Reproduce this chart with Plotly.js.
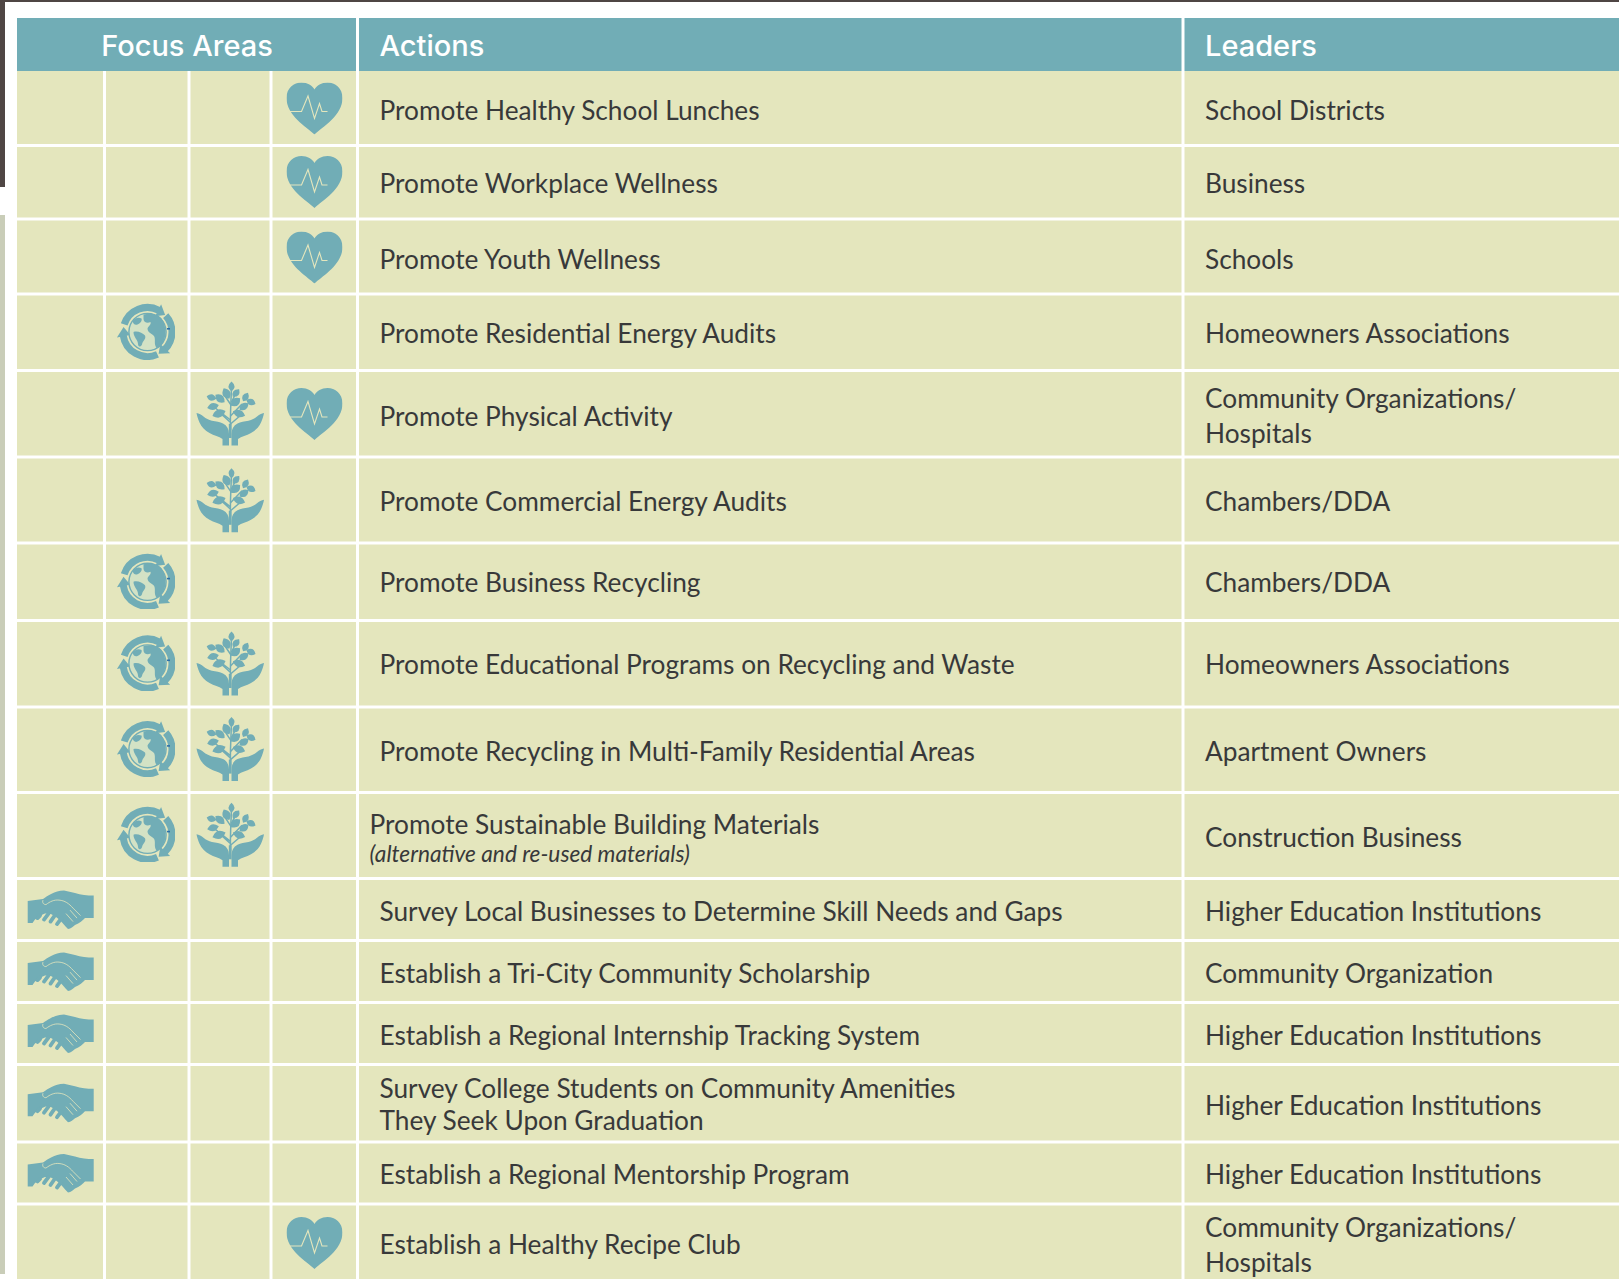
<!DOCTYPE html>
<html><head><meta charset="utf-8">
<script src="https://cdn.plot.ly/plotly-3.0.1.min.js"></script>
<style>html,body{margin:0;padding:0;background:#fff;overflow:hidden}</style></head>
<body><div id="chart" style="width:1619px;height:1279px"></div>
<script>
// ---- content ----
const headers = ["Focus Areas", "Actions", "Leaders"];
const actionLines = ["Promote Healthy School Lunches","Promote Workplace Wellness","Promote Youth Wellness","Promote Residential Energy Audits","Promote Physical Activity","Promote Commercial Energy Audits","Promote Business Recycling","Promote Educational Programs on Recycling and Waste","Promote Recycling in Multi-Family Residential Areas","Promote Sustainable Building Materials","Survey Local Businesses to Determine Skill Needs and Gaps","Establish a Tri-City Community Scholarship","Establish a Regional Internship Tracking System","Survey College Students on Community Amenities","They Seek Upon Graduation","Establish a Regional Mentorship Program","Establish a Healthy Recipe Club"];
const noteLines = ["(alternative and re-used materials)"];
const leaderLines = ["School Districts","Business","Schools","Homeowners Associations","Community Organizations/","Hospitals","Chambers/DDA","Chambers/DDA","Homeowners Associations","Apartment Owners","Construction Business","Higher Education Institutions","Community Organization","Higher Education Institutions","Higher Education Institutions","Higher Education Institutions","Community Organizations/","Hospitals"];
// row index (0-based) of rows marked in each focus column
const handsRows = [10,11,12,13,14];
const globeRows = [3,6,7,8,9];
const treeRows  = [4,5,7,8,9];
const heartRows = [0,1,2,4,15];

// ---- page geometry (axis units = reference pixels) ----
const columnEdges = [17,104.5,189,271,357.5,1183,1619];
const headerEdges = [17,357.5,1183,1619];
const rowEdges = [71,145.5,219,294,370.5,457,543,620.5,707,792.5,878.5,940.5,1002.5,1064.5,1142,1204,1279];
const headerTop = 18, gap = 3;
const actionX = 379.5, noteX = 369.5, leaderX = 1205;
const actionY = [113.5,186.8,262,336.5,419,504.8,585.3,667.5,754.6,827,914.7,976.6,1038.6,1091.8,1123.5,1177.5,1247.5];
const actionXs = actionLines.map((t,i)=> i===9 ? noteX : actionX);
const noteY = [856];
const leaderY = [113.5,186.8,262,336.5,401,436.5,504.8,585.3,667.5,754.6,840.5,914.7,976.6,1038.6,1108.8,1177.5,1230,1265];
const iconCentersY = [108.5,182,257.5,332.5,414,500.8,582.3,664,749.6,835.3,909.6,971.6,1033.5,1102.7,1173,1243];
const iconX = {hands:61, globe:147.5, tree:230, heart:314.5};
const iconDY = {hands:0, globe:0, tree:2, heart:0};
const iconW = {hands:76, globe:70, tree:76, heart:56};
const iconH = {hands:50, globe:70, tree:76, heart:52};

const teal = "#71adb6", cell = "#e4e6bd", ink = "#38393a";

// ---- icons ----
function leaf(x,y,l,w,a){
  return `<path transform="translate(${x} ${y}) rotate(${a})" d="M${-l/2} 0 Q0 ${-w} ${l/2} 0 Q0 ${w} ${-l/2} 0Z"/>`;
}
const svgWrap = (w,h,body)=>"data:image/svg+xml;base64,"+btoa(
  `<svg xmlns="http://www.w3.org/2000/svg" width="${w*3}" height="${h*3}" viewBox="0 0 ${w} ${h}"><defs><filter id="b" x="-5%" y="-5%" width="110%" height="110%"><feGaussianBlur stdDeviation="0.28"/></filter></defs><g filter="url(#b)">${body}</g></svg>`);

const heartSvg = svgWrap(56,52,
 `<path fill="${teal}" d="M28 52C20 44.5 0 33 0 15.5C0 5.5 7.5 0 15 0C21 0 25.8 3 28 7C30.2 3 35 0 41 0C48.5 0 56 5.5 56 15.5C56 33 36 44.5 28 52Z"/>
  <path fill="none" stroke="${cell}" stroke-width="1.1" d="M2 29L15 29L21.5 13.5L28 36L33 21L35.5 29L41 29"/>`);

const gc = [35,34.5], gr = 24.5;
const gp = (a,r)=>{const t=a*Math.PI/180;return (gc[0]+r*Math.cos(t)).toFixed(2)+" "+(gc[1]+r*Math.sin(t)).toFixed(2);};
const garc = (a0,a1)=>`<path d="M${gp(a0,gr)}A${gr} ${gr} 0 ${((a1-a0+360)%360)>180?1:0} 1 ${gp(a1,gr)}"/>`;
const ghead = (a0,a1)=>`<path d="M${gp(a0,gr-7)}L${gp(a0,gr+6.5)}L${gp(a1,gr)}Z"/>`;
const globeSvg = svgWrap(70,70,
 `<g fill="none" stroke="${teal}" stroke-width="7">${garc(198,298)}${garc(318,45)}${garc(66,172)}</g>
  <g fill="${teal}">${ghead(296,316)}${ghead(43,63)}${ghead(170,192)}</g>
  <circle cx="35" cy="34.5" r="18.6" fill="#d3e2c5" stroke="${teal}" stroke-width="1.4"/>
  <g fill="${teal}">
   <path d="M31 17C38 15 46 16.5 49 21C52 25 53.5 32 53 37C52 44 48 50 44 50.5C41 46 43.5 42 41.5 38.5C39 36 35 35 35 31C36 28 39 27.5 38 24.5C35 26 31 25 31 21.5Z"/>
   <path d="M21 34.5C25 33 30 35.5 32.5 38C34 41.5 30 43.5 29.5 47C28 50 25.5 49.5 25.5 46.5C25.5 42 21 40 21 34.5Z"/>
   <path d="M20 24C22 20.5 26 19.5 29 21C30 23.5 27.5 26 25 27C22.5 28 21 26.5 20 24Z"/></g>
  <path fill="#2f6fa8" d="M54.5 30.5h3v1.6h-3z"/>`);

const hand = `<path d="M4.5 35C7 35.5 9.5 36.5 11.5 38.5C14 40.5 16.5 42 20 42.8C24 43.6 28 44 31 45.5C35 47.5 37 51 37 56L37 67.5L30.5 67.5L30.5 61C27 58.5 22 57.5 17.5 55C13 52.5 9.5 49 7.5 44.5C6 41 5 38 4.5 35Z"/>`;
const treeSvg = svgWrap(76,76,
 `<g fill="${teal}">${hand}<g transform="translate(76.5 0) scale(-1 1)">${hand}</g>
  <path d="M36.8 46h2.8v14h-2.8z"/></g>
  <g fill="none" stroke="${teal}" stroke-width="1.5"><path d="M38.5 52C38 38 39 24 39.5 9"/><path d="M38.5 42L22 29M38.5 38L50 26M38.5 46L49 37M38 44L27 34M39 27L33 18M39.5 24L44 15"/></g>
  <g fill="${teal}">
   ${leaf(39.5,8.5,10,6,90)}${leaf(34.5,15.5,12,8,62)}${leaf(44,15,10,6.5,-50)}
   ${leaf(28,20.5,12,7.5,40)}${leaf(43.5,24,12,8,-40)}${leaf(19.5,19.5,10,6.5,15)}
   ${leaf(53.5,19,10,6.5,-60)}${leaf(59,24,10,6.5,25)}${leaf(21,28.5,12,7,-15)}
   ${leaf(27,35.5,14,8,-20)}${leaf(47,35.5,13,7.5,20)}${leaf(52,28.5,11,7,-35)}
  </g>`);

const handsSvg = svgWrap(76,50,
 `<path fill="${teal}" d="M4.7 16.5L20 14.5C25 11 31 6.5 41 6L52 8.5C58 10.5 64 11 70.7 11L70.7 33.5L62 33.5C60 36 56.5 38.5 52 40.5C50 42 48 44 45 44.5C41.5 41 38 36 33 32.5C29 29.5 26 28.5 22 29C18 30.5 15 33 12 35L9.5 38.5L4.7 38.5Z"/>
  <g fill="none" stroke="${teal}" stroke-width="3.8" stroke-linecap="round"><path d="M14.5 33.5L17 31"/><path d="M21 35L25.5 29"/><path d="M27.5 37L32 30.5"/><path d="M34 39.5L38.5 33.5"/></g>
  <path fill="none" stroke="${cell}" stroke-width="0.8" d="M20 15.5C19 18 20.5 20 23 20C27 17 31 15 36 15.5C42 16 46 19 50 23.5L57.5 31M43 29L50 37M47 25.5L54 33.5"/>`);

const iconSource = {hands:handsSvg, globe:globeSvg, tree:treeSvg, heart:heartSvg};
const iconRows = {hands:handsRows, globe:globeRows, tree:treeRows, heart:heartRows};

// ---- shapes ----
const rect = (x0,x1,y0,y1,c)=>({type:"rect",xref:"x",yref:"y",x0,x1,y0,y1,fillcolor:c,line:{width:0},layer:"below"});
const shapes = [];
shapes.push(rect(0,1619,0,2,"#4f4644"));
shapes.push(rect(0,5,0,187,"#4f4644"));
shapes.push(rect(0,5,215,1274,"#c9cdb8"));
for(let c=0;c<headerEdges.length-1;c++){
  shapes.push(rect(headerEdges[c]+(c?gap/2:0), headerEdges[c+1]-(c<2?gap/2:0), headerTop, rowEdges[0], teal));
}
for(let r=0;r<rowEdges.length-1;r++){
  for(let c=0;c<columnEdges.length-1;c++){
    shapes.push(rect(columnEdges[c]+(c?gap/2:0), columnEdges[c+1]-(c<5?gap/2:0),
      rowEdges[r]+(r?gap/2:0), rowEdges[r+1]-(r<rowEdges.length-2?gap/2:0), cell));
  }
}

// ---- icons as layout images ----
const images = [];
for(const k of Object.keys(iconRows)){
  for(const r of iconRows[k]){
    images.push({source:iconSource[k],xref:"x",yref:"y",x:iconX[k],y:iconCentersY[r]+iconDY[k],
      sizex:iconW[k],sizey:iconH[k],xanchor:"center",yanchor:"middle",sizing:"stretch",layer:"above"});
  }
}

// ---- traces: all the text ----
const bodyFont = "Lato, 'Open Sans', sans-serif";
const headFont = {family:"Inter, Roboto, sans-serif",size:29,color:"#ffffff",weight:500};
const traces = [
 {type:"scatter",mode:"text",x:actionXs,y:actionY,text:actionLines,textposition:"middle right",
  textfont:{family:bodyFont,size:26.25,color:ink},hoverinfo:"skip",showlegend:false},
 {type:"scatter",mode:"text",x:[noteX],y:noteY,text:noteLines.map(t=>`<i>${t}</i>`),textposition:"middle right",
  textfont:{family:bodyFont,size:22.7,color:ink},hoverinfo:"skip",showlegend:false},
 {type:"scatter",mode:"text",x:leaderY.map(()=>leaderX),y:leaderY,text:leaderLines,textposition:"middle right",
  textfont:{family:bodyFont,size:26.25,color:ink},hoverinfo:"skip",showlegend:false},
 {type:"scatter",mode:"text",x:[187],y:[49],text:[headers[0]],textposition:"middle center",
  textfont:headFont,hoverinfo:"skip",showlegend:false},
 {type:"scatter",mode:"text",x:[actionX,leaderX],y:[49,49],text:[headers[1],headers[2]],textposition:"middle right",
  textfont:headFont,hoverinfo:"skip",showlegend:false}
];

Plotly.newPlot("chart",traces,{
  width:1619,height:1279,margin:{l:0,r:0,t:0,b:0,pad:0},
  paper_bgcolor:"#fff",plot_bgcolor:"#fff",showlegend:false,
  xaxis:{range:[0,1619],visible:false,fixedrange:true},
  yaxis:{range:[1279,0],visible:false,fixedrange:true},
  shapes,images
},{displayModeBar:false,staticPlot:true});
</script></body></html>
